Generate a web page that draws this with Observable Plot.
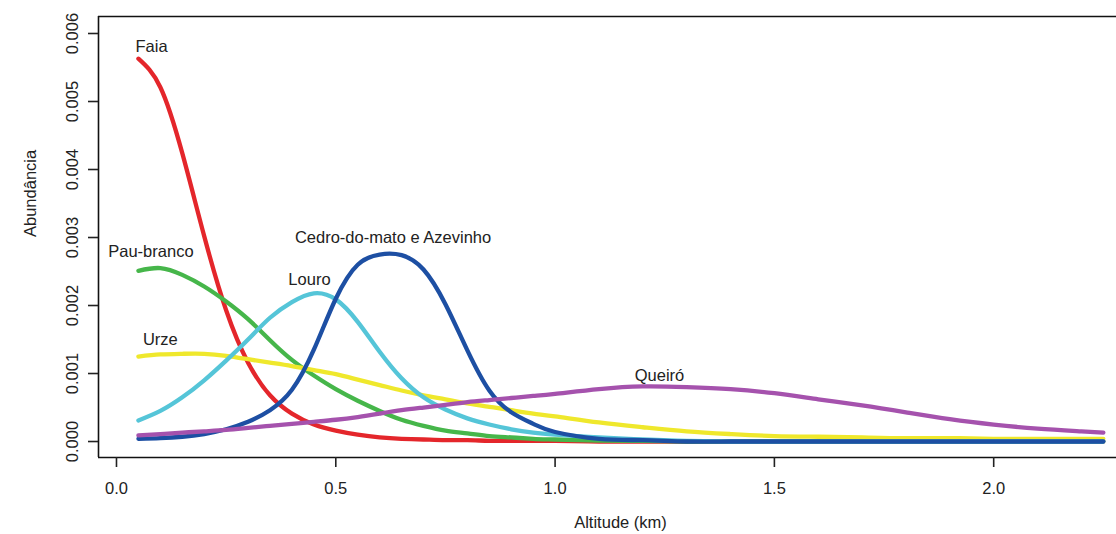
<!DOCTYPE html>
<html><head><meta charset="utf-8">
<script src="https://cdn.jsdelivr.net/npm/d3@7"></script>
<script src="https://cdn.jsdelivr.net/npm/@observablehq/plot@0.6"></script>
<style>html,body{margin:0;padding:0;background:#fff} svg{display:block}</style>
</head><body><div id="chart"></div>
<script>
// Shared altitude grid (km)
const altitude = [0.05,0.10,0.15,0.20,0.25,0.30,0.35,0.40,0.45,0.50,0.55,0.60,0.65,0.70,0.75,0.80,0.85,0.90,0.95,1.00,1.10,1.20,1.30,1.40,1.50,1.60,1.70,1.80,1.90,2.00,2.10,2.20,2.25];

// Abundance per species
const faia      = [0.00563,0.00521,0.00424,0.00302,0.00193,0.00116,0.00068,0.00041,0.00025,0.00016,0.00010,0.00006,0.00004,0.00003,0.00002,0.00002,0.00001,0.00001,0.00001,0.00001,0,0,0,0,0,0,0,0,0,0,0,0,0];
const pauBranco = [0.00251,0.00255,0.00245,0.00228,0.00206,0.00180,0.00149,0.00120,0.00097,0.00077,0.00060,0.00045,0.00032,0.00023,0.00016,0.00012,0.00008,0.00006,0.00004,0.00003,0.000015,0.00001,0,0,0,0,0,0,0,0,0,0,0];
const urze      = [0.00125,0.00128,0.00129,0.00129,0.00126,0.00121,0.00116,0.00111,0.00105,0.00099,0.00091,0.00083,0.00075,0.00068,0.00062,0.00056,0.00051,0.00046,0.00041,0.00037,0.00028,0.00021,0.00015,0.00011,0.00008,0.00007,0.00006,0.00005,0.00005,0.00004,0.00004,0.00004,0.00004];
const louro     = [0.00031,0.00045,0.00065,0.00090,0.00119,0.00150,0.00182,0.00205,0.00218,0.00209,0.00176,0.00132,0.00093,0.00065,0.00047,0.00034,0.00025,0.00018,0.00013,0.00010,0.00006,0.00003,0.00001,0,0,0,0,0,0,0,0,0,0];
const cedro     = [0.00004,0.00005,0.00007,0.00011,0.00018,0.00029,0.00046,0.00076,0.00135,0.00210,0.00260,0.00275,0.00274,0.00253,0.00202,0.00134,0.00075,0.00043,0.00026,0.00014,0.00004,0.00002,0,0,0,0,0,0,0,0,0,0,0];
const queiro    = [0.00009,0.00011,0.00013,0.00015,0.00017,0.00020,0.00023,0.00026,0.00029,0.00032,0.00036,0.00041,0.00046,0.00050,0.00054,0.00058,0.00061,0.00064,0.00067,0.00070,0.00077,0.00081,0.00080,0.00077,0.00071,0.00062,0.00053,0.00043,0.00033,0.00025,0.00019,0.00015,0.00013];

const speciesNames  = ["Faia","Pau-branco","Urze","Louro","Cedro-do-mato e Azevinho","Queiró"];
const speciesValues = [faia, pauBranco, urze, louro, cedro, queiro];
const speciesColors = ["#e4262b","#46b64a","#efe82c","#55c5d8","#1d4fa3","#a552ad"];

// Label anchor points (altitude, abundance)
const labelX = [0.080, 0.0785, 0.100, 0.440, 0.6305, 1.238];
const labelY = [0.00580, 0.00279, 0.00149, 0.00238, 0.00299, 0.00097];

const xTicks = [0, 0.5, 1.0, 1.5, 2.0];
const yTicks = [0, 0.001, 0.002, 0.003, 0.004, 0.005, 0.006];
const xDomain = [-0.041, 2.28];
const yDomain = [-0.000235, 0.00625];

const rows = speciesNames.flatMap((name, k) =>
  altitude.map((a, i) => ({species: name, altitude: a, abundance: speciesValues[k][i]})));
const labels = speciesNames.map((name, k) => ({species: name, x: labelX[k], y: labelY[k]}));

const chart = Plot.plot({
  width: 1116, height: 534,
  marginLeft: 98, marginRight: 0, marginTop: 16, marginBottom: 77,
  style: {fontFamily: "'Liberation Sans', Arial, Helvetica, sans-serif", fontSize: "16.5px", background: "#fff", color: "#222"},
  x: {domain: xDomain},
  y: {domain: yDomain},
  color: {domain: speciesNames, range: speciesColors},
  marks: [
    Plot.ruleY([yDomain[1]], {stroke: "#111", strokeWidth: 1.6}),
    Plot.ruleY([yDomain[0]], {stroke: "#111", strokeWidth: 1.6}),
    Plot.ruleX([xDomain[0]], {stroke: "#111", strokeWidth: 1.6}),
    Plot.axisX(xTicks, {tickSize: 10, tickPadding: 15, tickFormat: d => d.toFixed(1), fontSize: 16.5, strokeWidth: 1.6, label: null}),
    Plot.axisY(yTicks, {tickSize: 10, tickPadding: 11, tickRotate: -90, tickFormat: d => d.toFixed(3), fontSize: 16.5, strokeWidth: 1.6, label: null}),
    Plot.line(rows, {x: "altitude", y: "abundance", z: "species", stroke: "species", strokeWidth: 4.3, curve: "natural", strokeLinecap: "round", strokeLinejoin: "round"}),
    Plot.text(labels, {x: "x", y: "y", text: "species", fontSize: 16.5, fill: "#222"}),
    Plot.text(["Altitude (km)"], {frameAnchor: "bottom", dx: 13, dy: 70, fontSize: 16.5, fill: "#222"}),
    Plot.text(["Abundância"], {frameAnchor: "left", dx: -68, rotate: -90, fontSize: 16.5, fill: "#222"})
  ]
});
document.getElementById("chart").appendChild(chart);
</script>
</body></html>
